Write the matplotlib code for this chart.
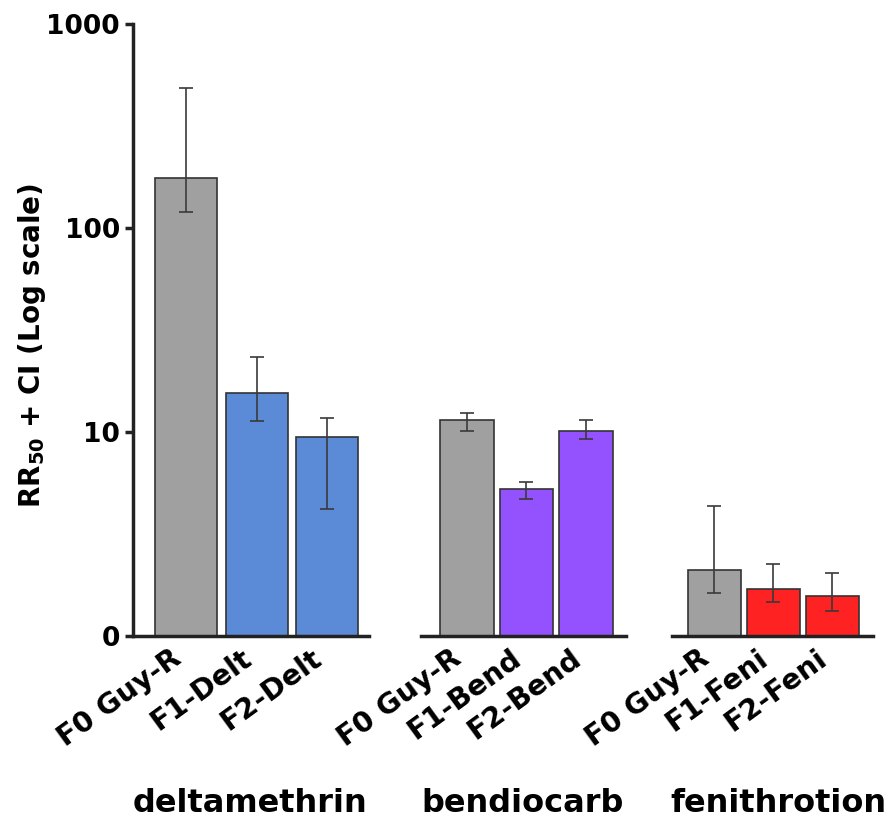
import numpy as np
import matplotlib
matplotlib.use("Agg")
import matplotlib.pyplot as plt
from matplotlib.ticker import FixedLocator, NullLocator

plt.rcParams['font.family'] = ['DejaVu Sans']
plt.rcParams['font.weight'] = 'bold'
plt.rcParams['mathtext.default'] = 'regular'

groups = ['deltamethrin', 'bendiocarb', 'fenithrotion']
labels = [['F0 Guy-R', 'F1-Delt', 'F2-Delt'],
          ['F0 Guy-R', 'F1-Bend', 'F2-Bend'],
          ['F0 Guy-R', 'F1-Feni', 'F2-Feni']]
rr50 = [[176, 15.5, 9.45],
        [11.4, 5.24, 10.1],
        [2.11, 1.70, 1.57]]
ci_low = [[120, 11.3, 4.2],
          [10.1, 4.7, 9.2],
          [1.62, 1.47, 1.32]]
ci_high = [[485, 23.3, 11.7],
           [12.4, 5.71, 11.4],
           [4.34, 2.25, 2.04]]
colors = [['#a0a0a0', '#5b8bd6', '#5b8bd6'],
          ['#a0a0a0', '#9452ff', '#9452ff'],
          ['#a0a0a0', '#ff2222', '#ff2222']]

fig = plt.figure(figsize=(8.94, 8.19), dpi=100)
W, H = 894., 819.
bot, top = 636., 24.
spans = [(133, 369), (421, 626), (672, 873)]
widths = [0.88, 0.9, 0.9]
xlims = [(-0.76, 2.6), (-0.76, 2.66), (-0.72, 2.69)]
group_x = [250, 523, 778]

for i in range(3):
    x0, x1 = spans[i]
    ax = fig.add_axes([x0 / W, 1 - bot / H, (x1 - x0) / W, (bot - top) / H])
    x = np.arange(3)
    vals = np.array(rr50[i])
    yerr = [vals - np.array(ci_low[i]), np.array(ci_high[i]) - vals]
    ax.bar(x, vals, width=widths[i], color=colors[i], edgecolor='#333333',
           linewidth=1.2, bottom=0)
    ax.errorbar(x, vals, yerr=yerr, fmt='none', ecolor='#3a3a3a',
                elinewidth=1.2, capsize=5, capthick=1.2)
    ax.set_yscale('log')
    ax.set_ylim(1, 1000)
    ax.set_xlim(*xlims[i])
    for s in ['top', 'right']:
        ax.spines[s].set_visible(False)
    ax.spines['bottom'].set_linewidth(2.5)
    ax.spines['bottom'].set_color('#222222')
    ax.set_xticks(x)
    ax.set_xticklabels(labels[i], rotation=36, ha='right',
                       fontsize=20.5, fontweight='bold')
    ax.tick_params(axis='x', length=0, pad=6)
    ax.yaxis.set_minor_locator(NullLocator())
    fig.text(group_x[i] / W, 1 - 803 / H, groups[i], fontsize=23,
             fontweight='bold', ha='center', va='center')
    if i == 0:
        ax.spines['left'].set_linewidth(2.5)
        ax.spines['left'].set_color('#222222')
        ax.yaxis.set_major_locator(FixedLocator([1, 10, 100, 1000]))
        ax.set_yticklabels(['0', '10', '100', '1000'], fontsize=19,
                           fontweight='bold')
        ax.tick_params(axis='y', length=6, width=2.5, color='#222222')
        ax.set_ylabel('RR$_{50}$ + CI (Log scale)', fontsize=20,
                      fontweight='bold')
        ax.yaxis.set_label_coords(-0.36, 0.474)
    else:
        ax.spines['left'].set_visible(False)
        ax.set_yticks([])
        ax.yaxis.set_minor_locator(NullLocator())

fig.savefig('out.png', dpi=100)
